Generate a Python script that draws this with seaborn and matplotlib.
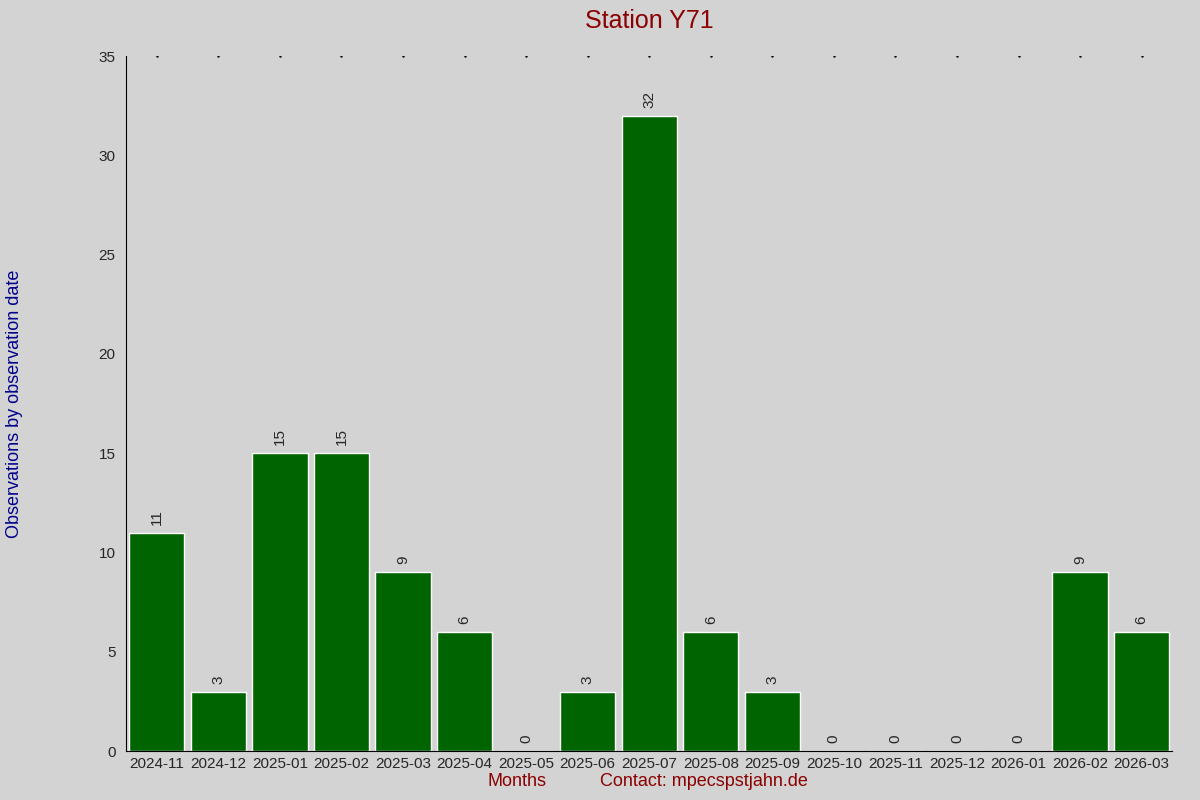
import matplotlib
matplotlib.use("Agg")
import matplotlib.pyplot as plt
import seaborn as sns
import pandas as pd

months = ["2024-11", "2024-12", "2025-01", "2025-02", "2025-03", "2025-04", "2025-05",
          "2025-06", "2025-07", "2025-08", "2025-09", "2025-10", "2025-11", "2025-12",
          "2026-01", "2026-02", "2026-03"]
counts = [11, 3, 15, 15, 9, 6, 0, 3, 32, 6, 3, 0, 0, 0, 0, 9, 6]

df = pd.DataFrame({"month": months, "count": counts})

sns.set_style("white")
plt.rcParams["font.family"] = ["Liberation Sans", "DejaVu Sans"]

fig = plt.figure(figsize=(12, 8), dpi=100, facecolor="#d3d3d3")
ax = fig.add_axes([0.105, 0.061, 0.872, 0.869])
ax.set_facecolor("#d3d3d3")

sns.barplot(data=df, x="month", y="count", color="#006400", width=0.9,
            saturation=1, ax=ax)

for i, v in enumerate(counts):
    ax.text(i, v + 0.4, str(v), rotation=90, ha="center", va="bottom", fontsize=11)

ax.set_ylim(0, 35)
ax.set_xlim(-0.5, len(months) - 0.5)
ax.set_yticks(range(0, 36, 5))
ax.tick_params(axis="both", labelsize=11, length=4, color="black")
ax.tick_params(axis="x", length=0, pad=4)
for s in ["top", "right"]:
    ax.spines[s].set_visible(False)
for s in ["left", "bottom"]:
    ax.spines[s].set_color("black")
    ax.spines[s].set_linewidth(0.8)

# small marks along the top edge
ax.plot(range(len(months)), [35] * len(months), ls="none", marker=".", ms=1.5, color="black")

ax.set_xlabel("")
ax.set_ylabel("Observations by observation date", fontsize=13, color="#00008b", labelpad=95)
ax.yaxis.set_label_coords(-0.098, 0.5)
fig.text(0.431, 0.018, "Months", color="#8b0000", fontsize=13, ha="center")
fig.text(0.587, 0.018, "Contact: mpecsрstjahn.de", color="#8b0000", fontsize=13, ha="center")
fig.text(0.541, 0.965, "Station Y71", color="#8b0000", fontsize=18, ha="center")

fig.savefig("out.png", dpi=100, facecolor=fig.get_facecolor())
